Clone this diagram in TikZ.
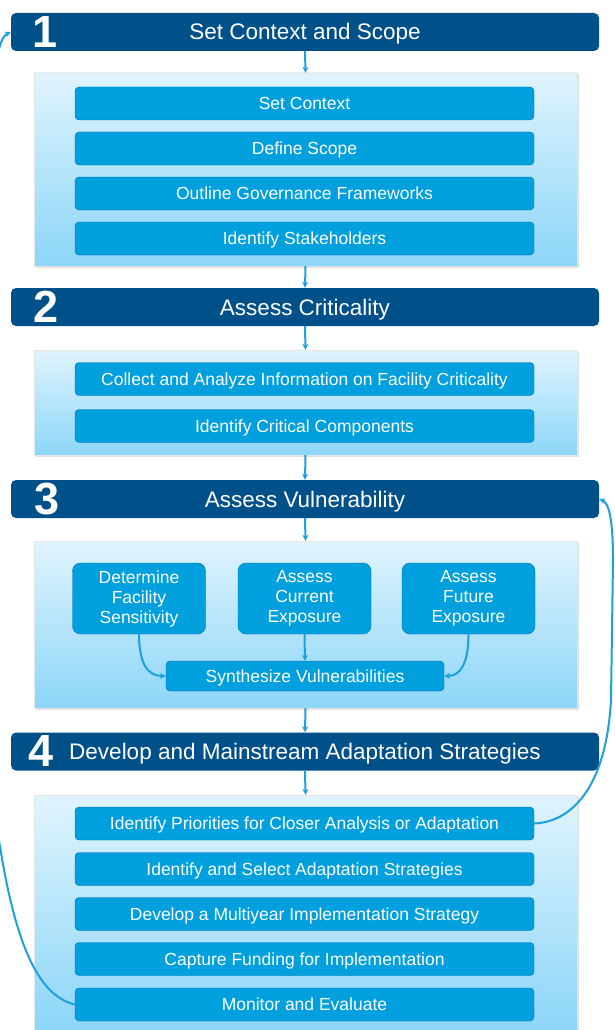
\documentclass[tikz,border=0pt]{standalone}
\usepackage{fontspec}
\setmainfont{Liberation Sans}
\usetikzlibrary{arrows.meta,shadows}
\definecolor{barblue}{RGB}{0,80,138}
\definecolor{taskblue}{RGB}{0,160,222}
\definecolor{taskline}{RGB}{0,112,172}
\definecolor{paneltop}{RGB}{224,244,253}
\definecolor{panelbot}{RGB}{140,214,248}
\definecolor{flowblue}{RGB}{28,160,222}
\begin{document}
\begin{tikzpicture}[x=1pt,y=-1pt,
    bar/.style={fill=barblue, rounded corners=5pt, minimum width=588pt, minimum height=38pt,
      inner sep=0pt, text height=16pt, text depth=0pt, text=white,
      font=\fontsize{22.5}{26}\selectfont},
    num/.style={inner sep=0pt, text=white, font=\fontsize{45}{45}\selectfont\bfseries},
    panel/.style={top color=paneltop, bottom color=panelbot, draw=white!80!gray,
      minimum width=543pt, inner sep=0pt,
      drop shadow={shadow xshift=1.5pt, shadow yshift=-1.5pt, opacity=.25, fill=gray}},
    task/.style={fill=taskblue, draw=taskline, rounded corners=4pt, minimum width=459pt,
      minimum height=33pt, inner sep=0pt, text height=12.5pt, text depth=0pt, text=white,
      font=\fontsize{17.5}{20}\selectfont},
    pillar/.style={fill=taskblue, draw=taskline, rounded corners=8pt, minimum width=133pt,
      minimum height=71pt, inner sep=0pt, align=center, text=white,
      font=\fontsize{17.5}{20}\selectfont},
    flow/.style={draw=flowblue, line width=2pt, -{Stealth[length=6pt,width=6pt]}}
  ]
  \useasboundingbox (0,0) rectangle (615,1030);

  \node[bar] (b1) at (305,32) {Set Context and Scope};
    \node[num] (n1) at (45,32) {1};
  \node[panel, minimum height=193pt] (p1) at (305.5,169.5) {};
    \node[task] (t11) at (304.5,103.5) {Set Context};
    \node[task] (t12) at (304.5,148.5) {Define Scope};
    \node[task] (t13) at (304.5,193.5) {Outline Governance Frameworks};
    \node[task] (t14) at (304.5,238.5) {Identify Stakeholders};

  \node[bar] (b2) at (305,307) {Assess Criticality};
    \node[num] (n2) at (46,307) {2};
  \node[panel, minimum height=105pt] (p2) at (305.5,402.5) {};
    \node[task] (t21) at (304.5,379) {Collect and Analyze Information on Facility Criticality};
    \node[task] (t22) at (304.5,426) {Identify Critical Components};

  \node[bar] (b3) at (305,499) {Assess Vulnerability};
    \node[num] (n3) at (47,499) {3};
  \node[panel, minimum height=167pt] (p3) at (305.5,624.5) {};
    \node[pillar] (s1) at (139,598.5) {Determine\\Facility\\Sensitivity};
    \node[pillar] (s2) at (304.5,598.5) {Assess\\Current\\Exposure};
    \node[pillar] (s3) at (468.5,598.5) {Assess\\Future\\Exposure};
    \node[task, minimum width=278pt, minimum height=30pt] (syn) at (305,676) {Synthesize Vulnerabilities};

  \node[bar] (b4) at (305,751.5) {Develop and Mainstream Adaptation Strategies};
    \node[num] (n4) at (41,751.5) {4};
  \node[panel, minimum height=235pt] (p4) at (305.5,912.5) {};
    \node[task] (t41) at (304.5,823.5) {Identify Priorities for Closer Analysis or Adaptation};
    \node[task] (t42) at (304.5,869) {Identify and Select Adaptation Strategies};
    \node[task] (t43) at (304.5,914) {Develop a Multiyear Implementation Strategy};
    \node[task] (t44) at (304.5,959) {Capture Funding for Implementation};
    \node[task] (t45) at (304.5,1004.5) {Monitor and Evaluate};

  \draw[flow] (b1.south) -- (p1.north);
  \draw[flow] (p1.south) -- (b2.north);
  \draw[flow] (b2.south) -- (p2.north);
  \draw[flow] (p2.south) -- (b3.north);
  \draw[flow] (b3.south) -- (p3.north);
  \draw[flow] (p3.south) -- (b4.north);
  \draw[flow] (b4.south) -- (p4.north);

  \draw[flow] (s1.south) .. controls (139,664) and (148,676) .. (syn.west);
  \draw[flow] (s2.south) -- (syn.north);
  \draw[flow] (s3.south) .. controls (468.5,664) and (460,676) .. (syn.east);

  \draw[flow] (t41.east) .. controls (570,822) and (606,790) .. (611,700)
    -- (613,560) .. controls (613,520) and (609,503) .. (b3.east);
  \draw[flow] (t45.west) .. controls (35,995) and (12,935) .. (-4,820)
    -- (-6,100) .. controls (-5,50) and (2,36) .. (b1.west);
\end{tikzpicture}
\end{document}
